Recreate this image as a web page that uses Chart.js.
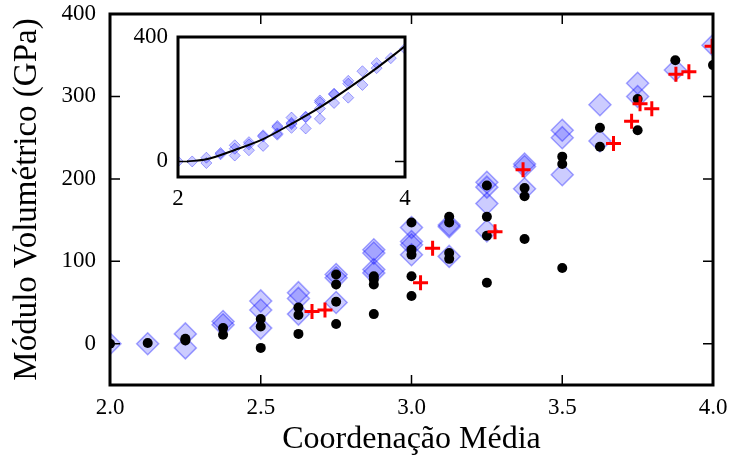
<!DOCTYPE html>
<html>
<head>
<meta charset="utf-8">
<script src="https://cdn.jsdelivr.net/npm/chart.js@4.4.0/dist/chart.umd.min.js"></script>
<style>
body { margin: 0; background: #fff; }
#wrap { position: relative; width: 732px; height: 459px; }
#main { position: absolute; left: 0; top: 0; }
#inset { position: absolute; left: 110px; top: 20px; }
</style>
</head>
<body>
<div id="wrap">
<canvas id="main" width="732" height="459" style="width:732px;height:459px"></canvas>
<canvas id="inset" width="310" height="195" style="width:310px;height:195px"></canvas>
</div>
<script>
// mean coordination values (x positions of the simulated points)
const coords = [2.0, 2.125, 2.25, 2.375, 2.5, 2.625, 2.75, 2.875, 3.0, 3.125, 3.25, 3.375, 3.5, 3.625, 3.75, 3.875, 4.0];

// blue diamonds, one list per coordination value
const diamondValues = [
    [0], [0], [12, -5], [27, 23], [52, 41, 19], [62, 55, 36], [84, 80, 50],
    [114, 110, 90, 86], [141, 124, 120, 108], [144, 142, 106], [196, 190, 170, 137],
    [218, 215, 188], [259, 250, 205], [290, 246], [316, 300], [332], [362]
];

// black dots, one list per coordination value
const dotValues = [
    [0], [1], [4, 6], [19, 11], [30, 21, -5], [44, 35, 12], [84, 72, 51, 24],
    [82, 78, 72, 36], [147, 114, 108, 82, 58], [154, 147, 110, 103], [192, 154, 131, 74],
    [189, 179, 127], [227, 218, 92], [262, 239], [297, 259], [344], [338]
];

// red crosses (experimental)
const crossX = [2.67, 2.713, 3.03, 3.07, 3.277, 3.37, 3.67, 3.73, 3.758, 3.797, 3.877, 3.92, 3.997];
const crossY = [39, 41, 74, 116, 136, 211, 243, 270, 291, 285, 327, 330, 361];

// fitted curve in the inset
const fitX = [2.08, 2.25, 2.5, 2.75, 3.0, 3.25, 3.5, 3.75, 4.0];
const fitY = [0, 7, 37, 72, 121, 174, 235, 300, 370];

const xTicks = [2.0, 2.5, 3.0, 3.5, 4.0];
const yTicks = [0, 100, 200, 300, 400];
const insetXTicks = [2, 4];
const insetYTicks = [0, 400];

function toPoints(xs, groups) {
    let pts = [];
    groups.forEach(function (g, i) {
        g.forEach(function (v) { pts.push({ x: xs[i], y: v }); });
    });
    return pts;
}

function pairs(xs, ys) {
    return xs.map(function (x, i) { return { x: x, y: ys[i] }; });
}

// the layout padding alone decides where the plot box sits
function noLabelPadding(s) {
    s.paddingTop = 0;
    s.paddingBottom = 0;
    s.paddingLeft = 0;
    s.paddingRight = 0;
}

Chart.defaults.font.family = "'Liberation Serif', 'Times New Roman', serif";
Chart.defaults.color = '#000';

const diamondFill = 'rgba(0, 0, 255, 0.2)';
const diamondEdge = 'rgba(0, 0, 255, 0.35)';

// heavy frame with inward ticks on all four sides
const frameTicks = {
    id: 'frameTicks',
    beforeDatasetsDraw(chart, args, opts) {
        if (!opts.fill) return;
        const a = chart.chartArea;
        chart.ctx.save();
        chart.ctx.fillStyle = '#fff';
        chart.ctx.fillRect(a.left, a.top, a.right - a.left, a.bottom - a.top);
        chart.ctx.restore();
    },
    afterDraw(chart, args, opts) {
        const ctx = chart.ctx;
        const a = chart.chartArea;
        const x = chart.scales.x;
        const y = chart.scales.y;
        const len = opts.len || 10;
        ctx.save();
        ctx.strokeStyle = '#000';
        ctx.lineWidth = 1.5;
        ctx.beginPath();
        x.ticks.forEach(function (t) {
            const px = x.getPixelForValue(t.value);
            ctx.moveTo(px, a.bottom); ctx.lineTo(px, a.bottom - len);
            ctx.moveTo(px, a.top); ctx.lineTo(px, a.top + len);
        });
        y.ticks.forEach(function (t) {
            const py = y.getPixelForValue(t.value);
            ctx.moveTo(a.left, py); ctx.lineTo(a.left + len, py);
            ctx.moveTo(a.right, py); ctx.lineTo(a.right - len, py);
        });
        ctx.stroke();
        ctx.lineWidth = 3;
        ctx.strokeRect(a.left, a.top, a.right - a.left, a.bottom - a.top);
        ctx.restore();
    }
};

new Chart(document.getElementById('main'), {
    type: 'scatter',
    data: {
        datasets: [{
            label: 'experimental',
            data: pairs(crossX, crossY),
            pointStyle: 'cross',
            pointRadius: 7.5,
            borderColor: '#ff0000',
            borderWidth: 3,
            order: 0,
            clip: 0
        }, {
            label: 'pontos',
            data: toPoints(coords, dotValues),
            pointStyle: 'circle',
            pointRadius: 5,
            backgroundColor: '#000',
            borderColor: '#000',
            borderWidth: 0,
            order: 1,
            clip: 0
        }, {
            label: 'losangos',
            data: toPoints(coords, diamondValues),
            pointStyle: 'rectRot',
            pointRadius: 11,
            backgroundColor: diamondFill,
            borderColor: diamondEdge,
            borderWidth: 1.5,
            order: 2,
            clip: 0
        }]
    },
    options: {
        responsive: false,
        animation: false,
        layout: { padding: { top: 14, right: 19, left: 0, bottom: 0 } },
        plugins: {
            legend: { display: false },
            tooltip: { enabled: false },
            frameTicks: { len: 10 }
        },
        scales: {
            x: {
                type: 'linear',
                min: 2,
                max: 4,
                afterBuildTicks: function (s) { s.ticks = xTicks.map(function (v) { return { value: v }; }); },
                afterFit: function (s) { s.height = 74; noLabelPadding(s); },
                grid: { display: false, drawTicks: false },
                border: { display: false },
                ticks: { font: { size: 23 }, padding: 9, maxRotation: 0, callback: function (v) { return v.toFixed(1); } },
                title: { display: true, text: 'Coordenação Média', font: { size: 32 }, padding: { top: 0, bottom: 0 } }
            },
            y: {
                type: 'linear',
                min: -50,
                max: 400,
                afterBuildTicks: function (s) { s.ticks = yTicks.map(function (v) { return { value: v }; }); },
                afterFit: function (s) { s.width = 110; noLabelPadding(s); },
                grid: { display: false, drawTicks: false },
                border: { display: false },
                ticks: { font: { size: 23 }, padding: 14, callback: function (v) { return String(v); } },
                title: { display: true, text: 'Módulo Volumétrico (GPa)', font: { size: 33 }, padding: { top: 8, bottom: 0 } }
            }
        }
    },
    plugins: [frameTicks]
});

new Chart(document.getElementById('inset'), {
    type: 'scatter',
    data: {
        datasets: [{
            label: 'ajuste',
            data: pairs(fitX, fitY),
            showLine: true,
            cubicInterpolationMode: 'monotone',
            borderColor: '#000',
            borderWidth: 2,
            pointRadius: 0,
            order: 0,
            clip: 0
        }, {
            label: 'losangos',
            data: toPoints(coords, diamondValues),
            pointStyle: 'rectRot',
            pointRadius: 5.5,
            backgroundColor: diamondFill,
            borderColor: diamondEdge,
            borderWidth: 1,
            order: 1,
            clip: 0
        }]
    },
    options: {
        responsive: false,
        animation: false,
        layout: { padding: { top: 17, right: 15, left: 0, bottom: 0 } },
        plugins: {
            legend: { display: false },
            tooltip: { enabled: false },
            frameTicks: { len: 10, fill: true }
        },
        scales: {
            x: {
                type: 'linear',
                min: 2,
                max: 4,
                afterBuildTicks: function (s) { s.ticks = insetXTicks.map(function (v) { return { value: v }; }); },
                afterFit: function (s) { s.height = 38; noLabelPadding(s); },
                grid: { display: false, drawTicks: false },
                border: { display: false },
                ticks: { font: { size: 23 }, padding: 8, maxRotation: 0, callback: function (v) { return String(v); } }
            },
            y: {
                type: 'linear',
                min: -50,
                max: 400,
                afterBuildTicks: function (s) { s.ticks = insetYTicks.map(function (v) { return { value: v }; }); },
                afterFit: function (s) { s.width = 68; noLabelPadding(s); },
                grid: { display: false, drawTicks: false },
                border: { display: false },
                ticks: { font: { size: 23 }, padding: 10, callback: function (v) { return String(v); } }
            }
        }
    },
    plugins: [frameTicks]
});
</script>
</body>
</html>
